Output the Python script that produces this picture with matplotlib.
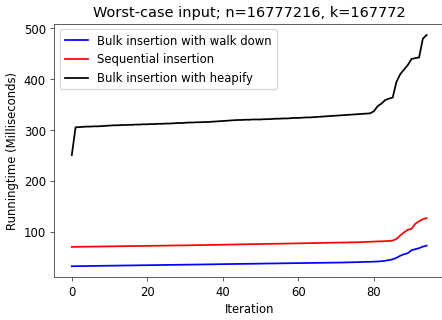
import matplotlib
matplotlib.use("Agg")
import matplotlib.pyplot as plt

iterations = list(range(95))

walk_down = [
    32.4, 32.6, 32.7, 32.8, 32.9, 33.0, 33.1, 33.2, 33.3, 33.4,
    33.5, 33.6, 33.7, 33.8, 33.9, 34.0, 34.1, 34.2, 34.3, 34.4,
    34.5, 34.6, 34.7, 34.8, 34.9, 35.0, 35.1, 35.2, 35.3, 35.4,
    35.5, 35.6, 35.7, 35.8, 35.9, 36.0, 36.1, 36.2, 36.3, 36.5,
    36.6, 36.7, 36.8, 36.9, 37.0, 37.1, 37.2, 37.3, 37.4, 37.5,
    37.6, 37.7, 37.8, 37.9, 38.0, 38.1, 38.2, 38.3, 38.4, 38.5,
    38.6, 38.7, 38.8, 38.9, 39.0, 39.1, 39.2, 39.3, 39.4, 39.5,
    39.6, 39.7, 39.8, 40.0, 40.2, 40.4, 40.6, 40.8, 41.0, 41.2,
    41.5, 41.8, 42.3, 43.2, 44.5, 46.0, 49.0, 53.0, 56.0, 58.0,
    64.0, 66.0, 68.0, 71.0, 73.0,
]

sequential = [
    70.5, 70.6, 70.7, 70.8, 70.9, 71.0, 71.1, 71.2, 71.3, 71.4,
    71.5, 71.6, 71.7, 71.8, 71.9, 72.0, 72.1, 72.2, 72.3, 72.4,
    72.5, 72.6, 72.7, 72.8, 72.9, 73.0, 73.1, 73.2, 73.3, 73.4,
    73.5, 73.6, 73.8, 73.9, 74.0, 74.1, 74.2, 74.4, 74.5, 74.6,
    74.8, 75.0, 75.1, 75.2, 75.4, 75.5, 75.6, 75.8, 75.9, 76.0,
    76.1, 76.3, 76.4, 76.5, 76.7, 76.8, 76.9, 77.1, 77.2, 77.3,
    77.5, 77.6, 77.7, 77.9, 78.0, 78.2, 78.3, 78.4, 78.6, 78.7,
    78.9, 79.0, 79.1, 79.3, 79.4, 79.6, 79.7, 80.0, 80.3, 80.6,
    80.9, 81.2, 81.5, 81.8, 82.1, 83.0, 86.0, 93.0, 99.0, 104.0,
    106.0, 116.0, 121.0, 125.0, 127.0,
]

heapify = [
    251.0, 305.5, 306.0, 306.5, 307.0, 307.0, 307.5, 307.5, 308.0, 308.5,
    309.0, 309.5, 309.5, 310.0, 310.0, 310.5, 310.5, 311.0, 311.0, 311.5,
    311.5, 312.0, 312.0, 312.5, 312.5, 313.0, 313.0, 313.5, 314.0, 314.0,
    314.5, 315.0, 315.0, 315.5, 315.5, 316.0, 316.0, 316.5, 317.0, 317.5,
    318.0, 318.5, 319.0, 319.5, 320.0, 320.0, 320.5, 320.5, 321.0, 321.0,
    321.0, 321.5, 321.5, 322.0, 322.5, 322.5, 323.0, 323.0, 323.5, 324.0,
    324.0, 324.5, 325.0, 325.0, 325.5, 326.0, 326.5, 327.0, 327.5, 328.0,
    328.5, 329.0, 329.5, 330.0, 330.5, 331.0, 331.5, 332.0, 332.5, 333.0,
    337.0, 347.0, 352.0, 359.0, 362.0, 364.0, 395.0, 410.0, 419.0, 428.0,
    440.0, 441.5, 443.0, 480.0, 487.0,
]

labels = ["Bulk insertion with walk down", "Sequential insertion", "Bulk insertion with heapify"]
colors = ["blue", "red", "black"]

DPI = 84
plt.rcParams["axes.edgecolor"] = "#555555"
plt.rcParams["xtick.color"] = "#555555"
plt.rcParams["ytick.color"] = "#555555"
plt.rcParams["xtick.labelcolor"] = "black"
plt.rcParams["ytick.labelcolor"] = "black"

fig = plt.figure(figsize=(442.4 / DPI, 320.4 / DPI), dpi=DPI)
ax = fig.add_axes([54 / 442, 1 - 277 / 320, (444 - 54) / 442, (277 - 24) / 320])

for series, lab, col in zip([walk_down, sequential, heapify], labels, colors):
    ax.plot(iterations, series, color=col, label=lab)

ax.set_ylim(11.4, 509.4)
ax.set_title("Worst-case input; n=16777216, k=167772", fontsize=12.4)
ax.set_xlabel("Iteration")
ax.set_ylabel("Runningtime (Milliseconds)")
ax.legend(loc="upper left")

fig.savefig("out.png", dpi=DPI)
